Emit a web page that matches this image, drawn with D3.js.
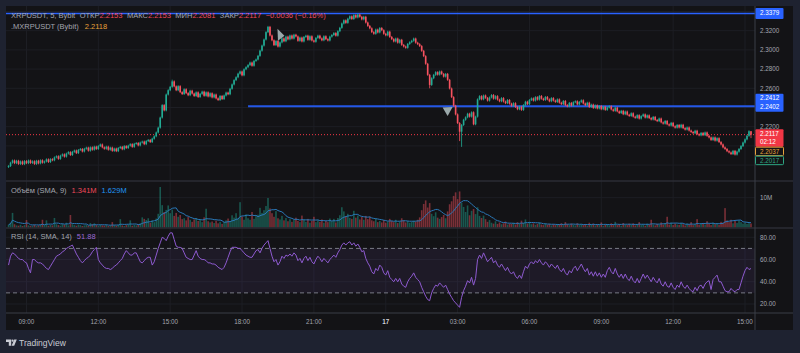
<!DOCTYPE html>
<html>
<head>
<meta charset="utf-8">
<script src="https://cdn.jsdelivr.net/npm/d3@7"></script>
<style>
  html, body { margin: 0; padding: 0; background: #1e2230; }
  svg { display: block; font-family: "Liberation Sans", Arial, sans-serif; }
</style>
</head>
<body>
<svg id="chart" width="800" height="353"></svg>
<script>
// 5-minute candles, first one at 08:15 on the 16th
const startTime = new Date(2024, 11, 16, 8, 15);

const closes = [
  2.1790, 2.1825, 2.1848, 2.1820, 2.1845, 2.1812, 2.1838, 2.1810, 2.1842, 2.1820, 2.1848, 2.1822,
  2.1840, 2.1812, 2.1845, 2.1818, 2.1850, 2.1825, 2.1838, 2.1860, 2.1832, 2.1862, 2.1850, 2.1880,
  2.1892, 2.1865, 2.1898, 2.1912, 2.1888, 2.1920, 2.1935, 2.1905, 2.1938, 2.1952, 2.1925, 2.1958,
  2.1968, 2.1942, 2.1970, 2.1982, 2.1950, 2.1985, 2.1960, 2.1992, 2.1968, 2.1998, 2.2015, 2.1985,
  2.1970, 2.1992, 2.1960, 2.1982, 2.1948, 2.1972, 2.1945, 2.1978, 2.1990, 2.1965, 2.1998, 2.1978,
  2.2002, 2.2018, 2.1990, 2.2022, 2.2030, 2.2005, 2.2035, 2.2045, 2.2018, 2.2050, 2.2062, 2.2040,
  2.2075, 2.2100, 2.2140, 2.2190, 2.2295, 2.2425, 2.2370, 2.2535, 2.2580, 2.2615, 2.2672, 2.2620,
  2.2580, 2.2622, 2.2560, 2.2540, 2.2590, 2.2550, 2.2528, 2.2575, 2.2545, 2.2520, 2.2558, 2.2510,
  2.2542, 2.2565, 2.2522, 2.2558, 2.2515, 2.2548, 2.2505, 2.2535, 2.2495, 2.2478, 2.2520, 2.2488,
  2.2525, 2.2555, 2.2538, 2.2595, 2.2640, 2.2685, 2.2715, 2.2752, 2.2775, 2.2735, 2.2798, 2.2820,
  2.2842, 2.2868, 2.2835, 2.2885, 2.2900, 2.2938, 2.2992, 2.3045, 2.3108, 2.3185, 2.3240, 2.3150,
  2.3100, 2.3050, 2.3092, 2.3035, 2.3078, 2.3120, 2.3090, 2.3138, 2.3110, 2.3150, 2.3118, 2.3158,
  2.3140, 2.3095, 2.3128, 2.3088, 2.3135, 2.3148, 2.3105, 2.3142, 2.3098, 2.3085, 2.3125, 2.3148,
  2.3120, 2.3100, 2.3142, 2.3112, 2.3098, 2.3138, 2.3155, 2.3175, 2.3148, 2.3195, 2.3230, 2.3275,
  2.3308, 2.3282, 2.3325, 2.3350, 2.3322, 2.3362, 2.3338, 2.3368, 2.3345, 2.3318, 2.3345, 2.3285,
  2.3250, 2.3225, 2.3185, 2.3168, 2.3212, 2.3182, 2.3228, 2.3205, 2.3168, 2.3152, 2.3190, 2.3135,
  2.3112, 2.3088, 2.3118, 2.3075, 2.3105, 2.3052, 2.3035, 2.3022, 2.3062, 2.3080, 2.3095, 2.3118,
  2.3075, 2.3060, 2.3040, 2.2990, 2.2935, 2.2855, 2.2740, 2.2635, 2.2705, 2.2740, 2.2768, 2.2742,
  2.2775, 2.2750, 2.2722, 2.2750, 2.2688, 2.2598, 2.2508, 2.2418, 2.2328, 2.2238, 2.2148, 2.2218,
  2.2272, 2.2298, 2.2335, 2.2305, 2.2350, 2.2225, 2.2305, 2.2485, 2.2518, 2.2485, 2.2525, 2.2500,
  2.2472, 2.2505, 2.2530, 2.2492, 2.2518, 2.2482, 2.2465, 2.2498, 2.2462, 2.2445, 2.2478, 2.2440,
  2.2418, 2.2445, 2.2405, 2.2382, 2.2408, 2.2375, 2.2425, 2.2460, 2.2435, 2.2478, 2.2495, 2.2472,
  2.2508, 2.2482, 2.2520, 2.2492, 2.2478, 2.2510, 2.2485, 2.2465, 2.2498, 2.2472, 2.2458, 2.2485,
  2.2450, 2.2435, 2.2468, 2.2425, 2.2412, 2.2448, 2.2420, 2.2455, 2.2465, 2.2432, 2.2458, 2.2475,
  2.2442, 2.2425, 2.2450, 2.2405, 2.2430, 2.2395, 2.2422, 2.2390, 2.2415, 2.2382, 2.2408, 2.2375,
  2.2400, 2.2412, 2.2380, 2.2365, 2.2398, 2.2360, 2.2342, 2.2365, 2.2330, 2.2358, 2.2325, 2.2312,
  2.2340, 2.2305, 2.2292, 2.2320, 2.2285, 2.2310, 2.2328, 2.2295, 2.2318, 2.2290, 2.2275, 2.2302,
  2.2270, 2.2258, 2.2285, 2.2245, 2.2232, 2.2260, 2.2225, 2.2212, 2.2240, 2.2205, 2.2190, 2.2218,
  2.2192, 2.2220, 2.2185, 2.2170, 2.2192, 2.2160, 2.2145, 2.2132, 2.2158, 2.2122, 2.2110, 2.2135,
  2.2112, 2.2140, 2.2105, 2.2088, 2.2062, 2.2088, 2.2055, 2.2080, 2.2040, 2.2015, 2.1985, 2.1968,
  2.1945, 2.1932, 2.1915, 2.1948, 2.1910, 2.1940, 2.1968, 2.1998, 2.2035, 2.2068, 2.2105, 2.2153,
  2.2117
];
const firstOpen = 2.1780;

// wicks that stick out further than usual
const extremes = [
  { i: 82, high: 2.2690 },
  { i: 130, high: 2.3250 },
  { i: 175, high: 2.3379 },
  { i: 211, low: 2.2600 },
  { i: 226, low: 2.2050 },
  { i: 227, low: 2.1990 },
  { i: 372, high: 2.2153, low: 2.2081 }
];

// volume, millions
const volumes = [
  0.9, 1.6, 4.9, 1.1, 0.7, 0.6, 0.9, 0.5, 0.8, 2.5, 0.7, 0.5,
  0.6, 0.9, 0.5, 0.7, 1.0, 2.6, 0.8, 2.4, 0.6, 0.9, 0.7, 3.2,
  1.1, 0.8, 0.6, 1.2, 0.9, 1.6, 0.7, 4.2, 1.1, 0.8, 0.6, 1.0,
  0.8, 0.5, 0.7, 0.9, 0.6, 1.5, 1.1, 1.4, 0.8, 0.5, 0.9, 0.7,
  0.6, 0.9, 0.5, 0.7, 1.8, 0.8, 0.6, 0.9, 2.8, 0.7, 0.5, 0.8,
  1.0, 2.4, 0.6, 0.9, 0.7, 1.1, 1.4, 3.4, 2.9, 2.5, 3.1, 1.6,
  2.4, 1.8, 3.0, 4.6, 13.6, 7.5, 5.2, 5.9, 7.4, 4.8, 6.0, 3.9,
  4.9, 3.6, 4.2, 2.8, 3.1, 2.4, 3.5, 2.6, 1.9, 2.7, 3.2, 2.2,
  2.5, 1.8, 3.4, 6.3, 2.1, 1.7, 2.0, 1.5, 2.3, 1.4, 1.9, 1.2,
  1.8, 2.4, 3.0, 2.2, 4.1, 3.3, 4.8, 2.9, 8.5, 3.7, 2.6, 4.4,
  3.1, 2.6, 5.2, 2.9, 3.8, 4.3, 6.6, 4.9, 5.8, 7.2, 9.9, 6.4,
  4.8, 3.6, 5.5, 3.1, 2.7, 3.9, 2.4, 3.2, 2.1, 2.8, 1.9, 2.5,
  3.3, 2.2, 1.8, 4.0, 2.6, 1.9, 2.9, 1.6, 2.2, 3.6, 1.8, 2.4,
  1.9, 2.7, 1.6, 2.3, 1.8, 3.0, 2.1, 2.9, 1.7, 3.2, 4.1, 6.8,
  5.4, 3.8, 4.6, 3.2, 2.9, 5.6, 3.3, 4.0, 2.7, 3.5, 2.6, 3.9,
  2.8, 3.6, 2.4, 2.1, 3.0, 1.8, 2.2, 1.7, 2.5, 1.6, 2.0, 2.9,
  2.2, 1.8, 2.6, 1.5, 2.0, 3.1, 2.4, 1.7, 2.2, 1.6, 1.9, 2.3,
  2.0, 2.6, 3.4, 5.8, 7.9, 9.1, 6.7, 8.2, 4.6, 3.8, 5.1, 3.3,
  2.9, 3.5, 4.2, 3.1, 5.4, 7.8, 8.8, 10.6, 11.8, 9.5, 12.1, 8.3,
  6.9, 5.2, 7.4, 4.1, 5.6, 6.2, 4.5, 6.8, 3.9, 3.2, 4.0, 2.8,
  1.9, 2.5, 1.6, 1.3, 2.1, 1.2, 1.7, 1.1, 1.4, 2.0, 1.0, 1.3,
  1.2, 1.6, 1.0, 1.8, 1.2, 2.3, 1.5, 2.7, 1.3, 1.9, 1.1, 1.4,
  0.9, 1.2, 1.7, 1.0, 0.8, 1.3, 0.9, 1.2, 0.7, 1.1, 0.8, 1.2,
  1.0, 1.4, 0.8, 1.8, 1.1, 0.8, 1.3, 0.9, 0.7, 1.4, 0.8, 1.1,
  0.8, 1.2, 0.6, 1.6, 0.9, 1.3, 0.7, 1.0, 0.8, 1.7, 0.6, 0.9,
  1.1, 0.7, 1.4, 0.8, 1.9, 0.8, 1.2, 0.6, 1.5, 0.9, 0.8, 1.3,
  0.9, 1.4, 0.7, 1.1, 1.8, 0.8, 1.0, 0.6, 1.3, 0.9, 2.6, 1.0,
  0.7, 1.2, 0.9, 1.7, 1.0, 1.4, 3.6, 1.0, 1.6, 0.8, 1.3, 1.0,
  0.9, 1.5, 1.1, 0.7, 1.3, 1.0, 1.8, 0.8, 1.1, 2.8, 0.9, 1.2,
  1.4, 1.0, 2.1, 1.2, 0.8, 1.6, 1.1, 1.3, 0.9, 1.9, 1.6, 6.5,
  2.4, 1.8, 2.6, 1.4, 2.2, 1.5, 2.3, 1.8, 1.3, 1.6, 1.2, 1.4,
  1.341
];

const rsiValues = [
  55, 63, 66, 65, 63, 61, 60, 60, 58, 57, 52, 48,
  60, 60, 58, 57, 57, 56, 54, 52, 51, 54, 57, 60,
  63, 64, 65, 67, 68, 70, 71, 72, 73, 69, 65, 62,
  59, 57, 59, 61, 62, 64, 67, 69, 71, 60, 57, 55,
  53, 52, 52, 51, 52, 54, 55, 57, 59, 61, 65, 68,
  66, 64, 64, 66, 66, 62, 58, 57, 59, 61, 62, 62,
  55, 58, 64, 70, 75, 80, 79, 77, 81, 84, 84, 78,
  72, 71, 71, 70, 66, 62, 61, 60, 60, 64, 68, 63,
  61, 60, 60, 59, 57, 57, 56, 56, 55, 53, 52, 51,
  53, 57, 62, 67, 71, 71, 71, 70, 70, 68, 66, 64,
  63, 62, 62, 65, 68, 69, 66, 70, 73, 75, 77, 70,
  63, 58, 60, 55, 58, 63, 61, 64, 63, 65, 63, 66,
  64, 59, 61, 57, 61, 63, 59, 62, 58, 56, 60, 63,
  61, 58, 61, 59, 57, 60, 62, 64, 62, 66, 69, 73,
  75, 73, 75, 76, 73, 75, 72, 74, 71, 67, 68, 61,
  57, 54, 49, 47, 52, 50, 55, 53, 48, 46, 50, 44,
  42, 40, 43, 40, 43, 38, 36, 35, 40, 43, 45, 48,
  44, 42, 40, 35, 31, 27, 24, 23, 30, 34, 37, 36,
  39, 37, 35, 37, 33, 29, 26, 23, 21, 19, 17, 26,
  32, 36, 41, 39, 44, 37, 43, 60, 64, 61, 66, 62,
  58, 60, 62, 57, 59, 55, 53, 56, 53, 50, 53, 49,
  47, 49, 45, 43, 46, 43, 49, 54, 52, 56, 58, 56,
  59, 57, 60, 57, 55, 58, 56, 53, 56, 54, 52, 55,
  51, 49, 52, 48, 46, 50, 48, 52, 54, 50, 53, 56,
  52, 49, 52, 46, 49, 45, 49, 45, 48, 44, 47, 44,
  50, 53, 49, 47, 52, 47, 44, 47, 43, 47, 43, 41,
  45, 41, 39, 43, 39, 43, 47, 43, 46, 43, 40, 44,
  41, 39, 43, 38, 36, 40, 36, 35, 39, 35, 33, 37,
  35, 40, 36, 34, 37, 34, 32, 31, 35, 32, 36, 37,
  34, 38, 40, 41, 33, 42, 44, 46, 40, 40, 36, 32,
  31, 31, 34, 32, 31, 33, 33, 39, 45, 50, 53, 51,
  51.88
];

const priceTicks = [2.18, 2.20, 2.22, 2.24, 2.26, 2.28, 2.30, 2.32, 2.34];
const volumeTicks = [10];
const rsiTicks = [20, 40, 60, 80];
const rsiBands = [30, 70];

const timeTicks = [
  [new Date(2024, 11, 16, 9), '09:00'],
  [new Date(2024, 11, 16, 12), '12:00'],
  [new Date(2024, 11, 16, 15), '15:00'],
  [new Date(2024, 11, 16, 18), '18:00'],
  [new Date(2024, 11, 16, 21), '21:00'],
  [new Date(2024, 11, 17, 0), '17'],
  [new Date(2024, 11, 17, 3), '03:00'],
  [new Date(2024, 11, 17, 6), '06:00'],
  [new Date(2024, 11, 17, 9), '09:00'],
  [new Date(2024, 11, 17, 12), '12:00'],
  [new Date(2024, 11, 17, 15), '15:00']
];

const highLine = 2.3379;
const levelLine = 2.2412;
const levelLine2 = 2.2402;
const levelStart = 120;   // candle where the drawn level starts
const lastPrice = 2.2117;
const countdown = '02:12';
const sideValues = [['2.2037', '#e8a23a'], ['2.2017', '#2ea884']];
const markers = [
  { i: 136, price: 2.3148, kind: 'cursor' },
  { i: 220, price: 2.2352, kind: 'down' }
];

const header = {
  symbol: 'XRPUSDT, 5, Bybit',
  ohlc: [['ОТКР', '2.2153'], ['МАКС', '2.2153'], ['МИН', '2.2081'], ['ЗАКР', '2.2117']],
  change: '−0.0036 (−0.16%)',
  index: '.MXRPUSDT (Bybit)',
  indexValue: '2.2118'
};
const volumeLegend = { name: 'Объём (SMA, 9)', value: '1.341M', ma: '1.629M' };
const rsiLegend = { name: 'RSI (14, SMA, 14)', value: '51.88' };

// ---- layout ----
const panel = { left: 6, right: 793, top: 6, bottom: 330 };
const plotRight = 755;
const mainPane = [6, 181], volPane = [181, 228], rsiPane = [228, 313], timePane = [313, 330];

const upColor = '#22ab94', downColor = '#f7525f';
const gridColor = '#1d1e24', sepColor = '#2b2d34', axisColor = '#3b3e47';
const textColor = '#a3a6af';

const svg = d3.select('#chart');

const xScale = d3.scaleTime()
  .domain([new Date(2024, 11, 16, 9), new Date(2024, 11, 17, 15)])
  .range([26.5, 745]);
const yPrice = d3.scaleLinear().domain([2.18, 2.32]).range([165.1, 30.7]);
const yVol = d3.scaleLinear().domain([0, 10]).range([227.5, 197.7]);
const yRsi = d3.scaleLinear().domain([20, 80]).range([304, 237.3]);

const candleTime = i => new Date(startTime.getTime() + i * 5 * 60000);
const cx = i => xScale(candleTime(i));

const candles = closes.map((c, i) => {
  const o = i === 0 ? firstOpen : closes[i - 1];
  const ext = extremes.find(e => e.i === i) || {};
  return {
    i, o, c,
    h: ext.high ?? Math.max(o, c) + 0.001,
    l: ext.low ?? Math.min(o, c) - 0.001
  };
});

// volume SMA(9)
const volMA = volumes.map((v, i) => d3.mean(volumes.slice(Math.max(0, i - 8), i + 1)));

// ---- background ----
svg.append('rect').attr('width', 800).attr('height', 353).attr('fill', '#1e2230');
svg.append('rect')
  .attr('x', panel.left).attr('y', panel.top)
  .attr('width', panel.right - panel.left).attr('height', panel.bottom - panel.top)
  .attr('fill', '#131316');

const defs = svg.append('defs');
function clip(id, y0, y1) {
  defs.append('clipPath').attr('id', id)
    .append('rect').attr('x', panel.left).attr('y', y0)
    .attr('width', plotRight - panel.left).attr('height', y1 - y0);
  return svg.append('g').attr('clip-path', `url(#${id})`);
}

// ---- grid ----
const grid = svg.append('g');
grid.selectAll('.vgrid').data(timeTicks).join('line')
  .attr('x1', d => xScale(d[0])).attr('x2', d => xScale(d[0]))
  .attr('y1', panel.top).attr('y2', rsiPane[1])
  .attr('stroke', gridColor).attr('stroke-width', 1);
grid.selectAll('.pgrid').data(priceTicks.filter(p => yPrice(p) > mainPane[0] && yPrice(p) < mainPane[1])).join('line')
  .attr('x1', panel.left).attr('x2', plotRight)
  .attr('y1', d => yPrice(d)).attr('y2', d => yPrice(d))
  .attr('stroke', gridColor);
grid.selectAll('.rgrid').data(rsiTicks).join('line')
  .attr('x1', panel.left).attr('x2', plotRight)
  .attr('y1', d => yRsi(d)).attr('y2', d => yRsi(d))
  .attr('stroke', gridColor);
grid.selectAll('.vtick').data(volumeTicks).join('line')
  .attr('x1', panel.left).attr('x2', plotRight)
  .attr('y1', d => yVol(d)).attr('y2', d => yVol(d))
  .attr('stroke', gridColor);

// ---- main pane ----
const gMain = clip('clipMain', mainPane[0], mainPane[1]);

gMain.append('line')
  .attr('x1', panel.left).attr('x2', plotRight)
  .attr('y1', yPrice(lastPrice)).attr('y2', yPrice(lastPrice))
  .attr('stroke', '#f23645').attr('stroke-width', 1).attr('stroke-dasharray', '1 2');

gMain.append('line')
  .attr('x1', panel.left).attr('x2', plotRight)
  .attr('y1', yPrice(highLine)).attr('y2', yPrice(highLine))
  .attr('stroke', '#2962ff').attr('stroke-width', 1.5);

gMain.append('line')
  .attr('x1', cx(levelStart)).attr('x2', plotRight)
  .attr('y1', yPrice(levelLine)).attr('y2', yPrice(levelLine))
  .attr('stroke', '#2457e6').attr('stroke-width', 2);

const cg = gMain.append('g');
cg.selectAll('line.wick').data(candles).join('line')
  .attr('class', 'wick')
  .attr('x1', d => cx(d.i)).attr('x2', d => cx(d.i))
  .attr('y1', d => yPrice(d.h)).attr('y2', d => yPrice(d.l))
  .attr('stroke', d => d.c >= d.o ? upColor : downColor).attr('stroke-width', 0.8);
cg.selectAll('rect.body').data(candles).join('rect')
  .attr('class', 'body')
  .attr('x', d => cx(d.i) - 0.8).attr('width', 1.6)
  .attr('y', d => yPrice(Math.max(d.o, d.c)))
  .attr('height', d => Math.max(1, Math.abs(yPrice(d.o) - yPrice(d.c))))
  .attr('fill', d => d.c >= d.o ? upColor : downColor);

gMain.selectAll('path.marker').data(markers).join('path')
  .attr('class', 'marker')
  .attr('transform', d => `translate(${cx(d.i)},${yPrice(d.price)})`)
  .attr('d', d => d.kind === 'down' ? 'M-5,-4.5 L5,-5 L0,4 Z' : 'M-2.5,-7 L4.5,0 L-2,5 Z')
  .attr('fill', '#aab9ba').attr('opacity', 0.9);

// ---- volume pane ----
const gVol = clip('clipVol', volPane[0], volPane[1]);
gVol.selectAll('rect').data(volumes).join('rect')
  .attr('x', (d, i) => cx(i) - 0.8).attr('width', 1.6)
  .attr('y', d => yVol(d)).attr('height', d => yVol(0) - yVol(d))
  .attr('fill', (d, i) => candles[i].c >= candles[i].o ? upColor : downColor)
  .attr('opacity', 0.45);
gVol.append('path').datum(volMA)
  .attr('d', d3.line().x((d, i) => cx(i)).y(d => yVol(d)))
  .attr('fill', 'none').attr('stroke', '#2a78b8').attr('stroke-width', 1);

// ---- RSI pane ----
const gRsi = clip('clipRsi', rsiPane[0], rsiPane[1]);
gRsi.append('rect')
  .attr('x', panel.left).attr('width', plotRight - panel.left)
  .attr('y', yRsi(rsiBands[1])).attr('height', yRsi(rsiBands[0]) - yRsi(rsiBands[1]))
  .attr('fill', 'rgba(126,87,194,0.1)');
gRsi.selectAll('line.band').data(rsiBands).join('line')
  .attr('class', 'band')
  .attr('x1', panel.left).attr('x2', plotRight)
  .attr('y1', d => yRsi(d)).attr('y2', d => yRsi(d))
  .attr('stroke', '#787b86').attr('stroke-width', 1).attr('stroke-dasharray', '4 3');
gRsi.append('path').datum(rsiValues)
  .attr('d', d3.line().x((d, i) => cx(i)).y(d => yRsi(d)))
  .attr('fill', 'none').attr('stroke', '#8e5ad0').attr('stroke-width', 1);

// ---- separators & axis borders ----
svg.selectAll('line.sep').data([mainPane[1], volPane[1]]).join('line')
  .attr('class', 'sep')
  .attr('x1', panel.left).attr('x2', panel.right)
  .attr('y1', d => d).attr('y2', d => d)
  .attr('stroke', sepColor).attr('stroke-width', 1.5);
svg.append('line')
  .attr('x1', panel.left).attr('x2', panel.right)
  .attr('y1', timePane[0]).attr('y2', timePane[0])
  .attr('stroke', axisColor);
svg.append('line')
  .attr('x1', plotRight).attr('x2', plotRight)
  .attr('y1', panel.top).attr('y2', panel.bottom)
  .attr('stroke', axisColor);

// ---- price axis boxes (ranges first, so hidden tick labels can be skipped) ----
const axisFont = 6.3;
const boxes = [];
const redTop = yPrice(lastPrice) - 5.5;
boxes.push({ top: yPrice(highLine) - 5.5, h: 11, fill: '#2962ff', stroke: 'none', lines: [highLine.toFixed(4)], color: '#ffffff' });
boxes.push({ top: yPrice(levelLine2) - 13.5, h: 18, fill: '#2962ff', stroke: 'none', lines: [levelLine.toFixed(4), levelLine2.toFixed(4)], color: '#ffffff' });
boxes.push({ top: redTop, h: 17.5, fill: '#f23645', stroke: 'none', lines: [lastPrice.toFixed(4), countdown], color: '#ffffff' });
sideValues.forEach((s, k) => {
  boxes.push({ top: redTop + 18 + k * 9, h: 8.5, fill: '#131316', stroke: s[1], lines: [s[0]], color: s[1] });
});
const lowestBox = d3.max(boxes, b => b.top + b.h);
const hidden = y => boxes.some(b => y > b.top - 1 && y < b.top + b.h + 1);

// ---- axis labels ----
defs.append('clipPath').attr('id', 'clipAxisLow')
  .append('rect').attr('x', plotRight).attr('y', lowestBox - 0.5).attr('width', 40).attr('height', mainPane[1] - lowestBox);
const axisTicks = priceTicks.filter(p => yPrice(p) > mainPane[0] + 3 && yPrice(p) < mainPane[1] - 2 && !hidden(yPrice(p)));
svg.selectAll('text.ptick').data(axisTicks).join('text')
  .attr('class', 'ptick')
  .attr('x', 760).attr('y', d => yPrice(d)).attr('dy', '0.35em')
  .attr('font-size', axisFont).attr('fill', textColor)
  .attr('clip-path', d => yPrice(d) > lowestBox - 4 ? 'url(#clipAxisLow)' : null)
  .text(d => d.toFixed(4));
svg.selectAll('text.vtickl').data(volumeTicks).join('text')
  .attr('class', 'vtickl')
  .attr('x', 760).attr('y', d => yVol(d)).attr('dy', '0.35em')
  .attr('font-size', axisFont).attr('fill', textColor)
  .text(d => d + 'M');
svg.selectAll('text.rtick').data(rsiTicks).join('text')
  .attr('class', 'rtick')
  .attr('x', 760).attr('y', d => yRsi(d)).attr('dy', '0.35em')
  .attr('font-size', axisFont).attr('fill', textColor)
  .text(d => d.toFixed(2));
svg.selectAll('text.ttick').data(timeTicks).join('text')
  .attr('class', 'ttick')
  .attr('x', d => xScale(d[0])).attr('y', 321.5).attr('dy', '0.35em')
  .attr('text-anchor', 'middle').attr('font-size', axisFont)
  .attr('font-weight', d => d[1].length < 3 ? 'bold' : 'normal')
  .attr('fill', d => d[1].length < 3 ? '#d1d4dc' : textColor)
  .text(d => d[1]);

boxes.forEach(b => {
  svg.append('rect')
    .attr('x', plotRight + 0.5).attr('y', b.top).attr('width', 28).attr('height', b.h)
    .attr('fill', b.fill).attr('stroke', b.stroke).attr('stroke-width', b.stroke === 'none' ? 0 : 1)
    .attr('rx', 1);
  b.lines.forEach((t, k) => {
    svg.append('text')
      .attr('x', 760).attr('y', b.top + 4.3 + k * 8.5).attr('dy', '0.35em')
      .attr('font-size', axisFont).attr('fill', b.color).text(t);
  });
});

// ---- legends ----
function legend(x, y, parts, size) {
  const t = svg.append('text').attr('x', x).attr('y', y).attr('font-size', size);
  parts.forEach(p => t.append('tspan').attr('fill', p[1]).attr('dx', p[2] || 0).text(p[0]));
}
const red = '#f0485a';
const headerParts = [[header.symbol, textColor]];
header.ohlc.forEach(([k, v]) => { headerParts.push([k, textColor, 4.5]); headerParts.push([v, red]); });
headerParts.push([header.change, red, 4.5]);
legend(11, 18, headerParts, 7.5);
legend(11, 28.5, [[header.index, textColor], [header.indexValue, '#e8a23a', 6]], 7.5);
legend(11, 192.5, [[volumeLegend.name, textColor], [volumeLegend.value, red, 5], [volumeLegend.ma, '#2196f3', 5]], 7.5);
legend(11, 239, [[rsiLegend.name, textColor], [rsiLegend.value, '#9c6ad6', 5]], 7.5);

// ---- TradingView mark ----
const logo = svg.append('g').attr('fill', '#c9ccd4');
logo.append('path').attr('d', 'M6,339.5 h5.2 v6.3 h-2.4 v-3.9 h-2.8 z');
logo.append('circle').attr('cx', 12.6).attr('cy', 340.7).attr('r', 1.1);
logo.append('path').attr('d', 'M14.2,339.5 h2.6 l-2.6,6.3 h-2.6 z');
svg.append('text').attr('x', 19).attr('y', 345.5).attr('font-size', 8.5)
  .attr('fill', '#c9ccd4').text('TradingView');
</script>
</body>
</html>
